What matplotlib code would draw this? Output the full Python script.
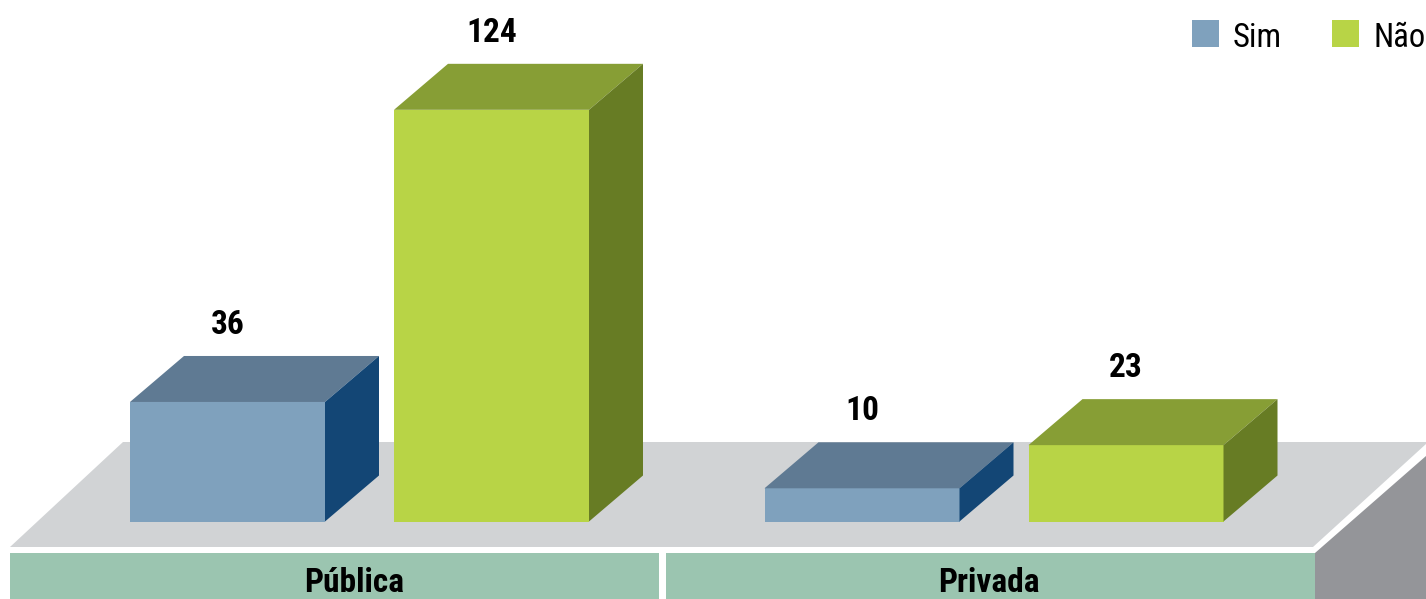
import matplotlib
matplotlib.use("Agg")
import matplotlib.pyplot as plt
from matplotlib.patches import Polygon, Rectangle

# Data
categories = ["Pública", "Privada"]
series_names = ["Sim", "Não"]
sim_values = [36, 10]
nao_values = [124, 23]

plt.rcParams["font.family"] = ["Roboto Condensed", "Archivo Narrow",
                               "IBM Plex Sans Condensed", "DejaVu Sans"]

W, H = 1426, 599
fig = plt.figure(figsize=(W / 100, H / 100), dpi=100)
ax = fig.add_axes([0, 0, 1, 1])
ax.set_axis_off()

# Layout: x in pixels, y in value units (bar baseline at 0)
PX_PER_UNIT = 3.32
BASE_PX = 521.5


def py(pix):
    """Convert a vertical pixel position (from top) into value units."""
    return (BASE_PX - pix) / PX_PER_UNIT


ax.set_xlim(0, W)
ax.set_ylim(py(H), py(0))

# Colours
front = {"Sim": "#7fa1bd", "Não": "#b8d446"}
side = {"Sim": "#134675", "Não": "#677c24"}
top = {"Sim": "#5f7a93", "Não": "#879e35"}
floor_top = "#d1d3d5"
floor_side = "#949599"
strip_col = "#9bc5b0"

# Floor (platform)
ax.add_patch(Polygon([(10, py(547)), (1313, py(547)), (1426, py(444)),
                      (1426, py(442)), (123, py(442))],
                     closed=True, fc=floor_top, ec="none", zorder=1))
ax.add_patch(Polygon([(1315, py(553)), (1426, py(456)), (1426, py(H)),
                      (1315, py(H))],
                     closed=True, fc=floor_side, ec="none", zorder=1))

# Category strips
group_centers = [359.5, 994.0]
strip_spans = [(10, 659), (666, 1315)]
for (x0, x1), cx, name in zip(strip_spans, group_centers, categories):
    ax.add_patch(Rectangle((x0, py(H)), x1 - x0, py(553) - py(H),
                           fc=strip_col, ec="none", zorder=1))
    ax.text(cx - 5, py(592), name, ha="center", va="baseline",
            fontsize=24, fontweight="bold", color="#000000", zorder=5)

# 3D bars
BAR_W = 195
DEPTH_X = 54
DEPTH_Y = 46 / PX_PER_UNIT
offsets = {"Sim": -229.5, "Não": 34.5}


def draw_bar(x0, v, key):
    ax.add_patch(Rectangle((x0, 0), BAR_W, v, fc=front[key], ec="none", zorder=3))
    ax.add_patch(Polygon([(x0, v), (x0 + BAR_W, v),
                          (x0 + BAR_W + DEPTH_X, v + DEPTH_Y),
                          (x0 + DEPTH_X, v + DEPTH_Y)],
                         closed=True, fc=top[key], ec="none", zorder=3))
    ax.add_patch(Polygon([(x0 + BAR_W, 0), (x0 + BAR_W + DEPTH_X, DEPTH_Y),
                          (x0 + BAR_W + DEPTH_X, v + DEPTH_Y), (x0 + BAR_W, v)],
                         closed=True, fc=side[key], ec="none", zorder=3))
    ax.text(x0 + BAR_W / 2, v + DEPTH_Y + 22 / PX_PER_UNIT, f"{v}",
            ha="center", va="baseline", fontsize=24, fontweight="bold",
            color="#000000", zorder=5)


for cx, s_val, n_val in zip(group_centers, sim_values, nao_values):
    draw_bar(cx + offsets["Sim"], s_val, "Sim")
    draw_bar(cx + offsets["Não"], n_val, "Não")

# Legend
legend_x = {"Sim": 1192, "Não": 1332}
for name in series_names:
    lx = legend_x[name]
    ax.add_patch(Rectangle((lx, py(47)), 27, py(20) - py(47),
                           fc=front[name], ec="none", zorder=5))
    ax.text(lx + 41, py(46.5), name, ha="left", va="baseline",
            fontsize=23.5, color="#000000", zorder=5)

fig.savefig("out.png", dpi=100)
